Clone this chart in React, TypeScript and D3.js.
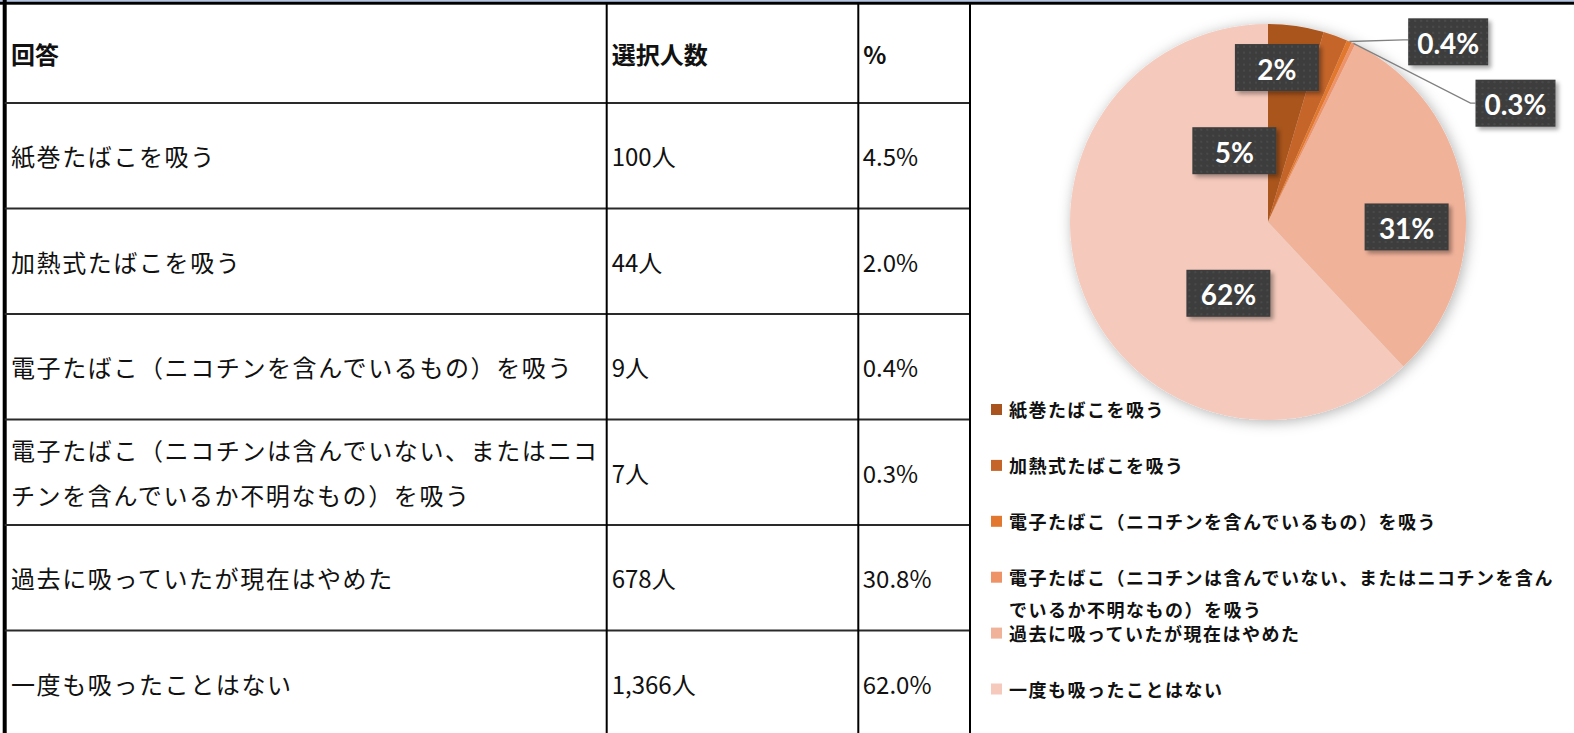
import React from 'react';
import * as d3 from 'd3';

// ---------- data ----------
const headers = ['回答', '選択人数', '%'];
const categories = [
  '紙巻たばこを吸う',
  '加熱式たばこを吸う',
  '電子たばこ（ニコチンを含んでいるもの）を吸う',
  '電子たばこ（ニコチンは含んでいない、またはニコチンを含んでいるか不明なもの）を吸う',
  '過去に吸っていたが現在はやめた',
  '一度も吸ったことはない',
];
const tableLines = [
  ['紙巻たばこを吸う'],
  ['加熱式たばこを吸う'],
  ['電子たばこ（ニコチンを含んでいるもの）を吸う'],
  ['電子たばこ（ニコチンは含んでいない、またはニコ', 'チンを含んでいるか不明なもの）を吸う'],
  ['過去に吸っていたが現在はやめた'],
  ['一度も吸ったことはない'],
];
const legendLines = [
  ['紙巻たばこを吸う'],
  ['加熱式たばこを吸う'],
  ['電子たばこ（ニコチンを含んでいるもの）を吸う'],
  ['電子たばこ（ニコチンは含んでいない、またはニコチンを含ん', 'でいるか不明なもの）を吸う'],
  ['過去に吸っていたが現在はやめた'],
  ['一度も吸ったことはない'],
];
const counts = [100, 44, 9, 7, 678, 1366];
const countLabels = ['100人', '44人', '9人', '7人', '678人', '1,366人'];
const percentLabels = ['4.5%', '2.0%', '0.4%', '0.3%', '30.8%', '62.0%'];
const pieLabels = ['5%', '2%', '0.4%', '0.3%', '31%', '62%'];
const colors = ['#A9541F', '#C5652A', '#E2782F', '#EE9268', '#F1B29A', '#F5CABC'];

// label placement (in units of pie radius, relative to centre)
const labelOffsets: [number, number][] = [
  [-0.17, -0.36],
  [0.045, -0.78],
  [0.91, -0.91],
  [1.25, -0.6],
  [0.7, 0.025],
  [-0.2, 0.36],
];
const leaderSlices = [2, 3];

const W = 1574;
const H = 733;
const JP = '"Noto Sans CJK JP", "Noto Sans", sans-serif';

export default function App() {
  const colX = [4.7, 606.7, 858.3, 970];
  const rowScale = d3
    .scaleBand<number>()
    .domain(d3.range(categories.length))
    .range([103, 736])
    .padding(0);
  const headerTop = 3.2;
  const headerBottom = 103;

  const cx = 1268;
  const cy = 222;
  const r = 198;
  const pie = d3
    .pie<number>()
    .sort(null)
    .value((d) => d)
    .startAngle(0)
    .endAngle(2 * Math.PI);
  const arcs = pie(counts);
  const arcGen = d3.arc<d3.PieArcDatum<number>>().innerRadius(0).outerRadius(r);

  const legendY = d3
    .scaleLinear()
    .domain([0, categories.length - 1])
    .range([409, 688.5]);

  return (
    <svg
      width={W}
      height={H}
      style={{ position: 'absolute', left: 0, top: 0, display: 'block', background: '#fff' }}
      fontFamily={JP}
    >
      <defs>
        <pattern id="dots" width="6" height="6" patternUnits="userSpaceOnUse">
          <rect width="6" height="6" fill="#3d3d3d" />
          <circle cx="3" cy="3" r="0.8" fill="#595959" />
        </pattern>
        <filter id="pieShadow" x="-20%" y="-20%" width="140%" height="140%">
          <feDropShadow dx="2" dy="2" stdDeviation="7" floodColor="#000" floodOpacity="0.3" />
        </filter>
        <filter id="boxShadow" x="-20%" y="-20%" width="140%" height="150%">
          <feDropShadow dx="3" dy="3" stdDeviation="2" floodColor="#000" floodOpacity="0.35" />
        </filter>
      </defs>

      {/* top band */}
      <rect x={0} y={0} width={W} height={1.7} fill="#b4c6e7" />
      <rect x={0} y={1.7} width={W} height={3} fill="#000" />
      {/* left border */}
      <rect x={2.7} y={0} width={4} height={H} fill="#000" />

      {/* table grid */}
      {[headerBottom, ...categories.map((_, i) => (rowScale(i) as number) + rowScale.bandwidth())].map(
        (y, i) => (
          <line key={'h' + i} x1={colX[0]} x2={colX[3]} y1={y} y2={y} stroke="#2a2a2a" strokeWidth={2} />
        )
      )}
      {colX.slice(1).map((x, i) => (
        <line key={'v' + i} x1={x} x2={x} y1={headerTop} y2={H} stroke="#000" strokeWidth={2} />
      ))}

      {/* header */}
      {headers.map((h, i) => (
        <text
          key={'hd' + i}
          x={(i === 0 ? 11 : colX[i] + 5)}
          y={(headerTop + headerBottom) / 2}
          dominantBaseline="central"
          fontSize={24}
          fontWeight={700}
          fill="#111"
        >
          {h}
        </text>
      ))}

      {/* body rows */}
      {categories.map((c, i) => {
        const y0 = rowScale(i) as number;
        const mid = y0 + rowScale.bandwidth() / 2;
        const lines = tableLines[i];
        const lh = 45;
        return (
          <g key={'row' + i}>
            {lines.map((ln, j) => (
              <text
                key={j}
                x={11}
                y={mid + (j - (lines.length - 1) / 2) * lh}
                dominantBaseline="central"
                fontSize={24}
                letterSpacing={1.6}
                fill="#111"
              >
                {ln}
              </text>
            ))}
            <text x={colX[1] + 5} y={mid} dominantBaseline="central" fontSize={24} fill="#111">
              {countLabels[i]}
            </text>
            <text x={colX[2] + 4.5} y={mid} dominantBaseline="central" fontSize={24} fill="#111">
              {percentLabels[i]}
            </text>
          </g>
        );
      })}

      {/* pie */}
      <g transform={`translate(${cx},${cy})`}>
        <g filter="url(#pieShadow)">
          {arcs.map((a, i) => (
            <path key={'s' + i} d={arcGen(a) as string} fill={colors[i]} />
          ))}
        </g>
        {/* leader lines */}
        {leaderSlices.map((i) => {
          const a = arcs[i];
          const m = (a.startAngle + a.endAngle) / 2;
          const sx = r * Math.sin(m);
          const sy = -r * Math.cos(m);
          const w = pieLabels[i].length > 3 ? 80 : 84;
          const bx = labelOffsets[i][0] * r - w / 2;
          const by = labelOffsets[i][1] * r - (i === 2 ? 2 : 0);
          return (
            <path
              key={'ll' + i}
              d={`M${sx},${sy}L${bx - 5},${by}L${bx},${by}`}
              fill="none"
              stroke="#808080"
              strokeWidth={1.3}
            />
          );
        })}
        {/* labels */}
        {arcs.map((a, i) => {
          const w = pieLabels[i].length > 3 ? 80 : 84;
          const h = 47;
          const lx = labelOffsets[i][0] * r;
          const ly = labelOffsets[i][1] * r;
          return (
            <g key={'lb' + i} transform={`translate(${lx},${ly})`}>
              <rect
                x={-w / 2}
                y={-h / 2}
                width={w}
                height={h}
                fill="url(#dots)"
                filter="url(#boxShadow)"
              />
              <text
                x={0}
                y={1}
                textAnchor="middle"
                dominantBaseline="central"
                fontFamily='Lato, "Noto Sans", sans-serif'
                fontWeight={700}
                fontSize={28}
                fill="#fff"
              >
                {pieLabels[i]}
              </text>
            </g>
          );
        })}
      </g>

      {/* legend */}
      {categories.map((c, i) => {
        const y = legendY(i);
        return (
          <g key={'lg' + i}>
            <rect x={991} y={y - 5} width={11} height={11} fill={colors[i]} />
            {legendLines[i].map((ln, j) => (
              <text
                key={j}
                x={1009}
                y={y + j * 32}
                dominantBaseline="central"
                fontSize={18}
                fontWeight={700}
                letterSpacing={1.5}
                fill="#111"
              >
                {ln}
              </text>
            ))}
          </g>
        );
      })}
    </svg>
  );
}
